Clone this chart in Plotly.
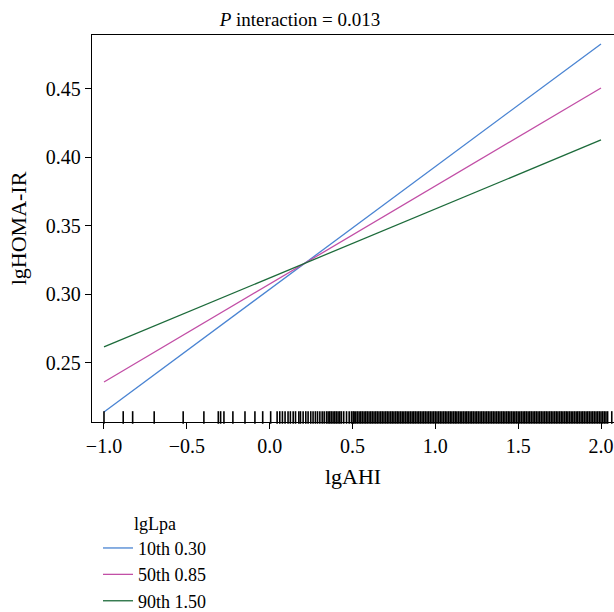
import plotly.graph_objects as go

# Data
x_ends = [-1.0, 2.0]
series_names = ["10th 0.30", "50th 0.85", "90th 1.50"]
blue_y = [0.2142, 0.4829]
pink_y = [0.2361, 0.4507]
green_y = [0.2617, 0.4128]
colors = ["#4A84D2", "#C24FA6", "#1D6B3B"]

rug_sparse = [-1.0, -0.884, -0.827, -0.697, -0.522, -0.397, -0.31, -0.296, -0.276,
              -0.222, -0.149, -0.089, -0.042, 0.006, 0.045, 0.061, 0.077, 0.093,
              0.111, 0.125, 0.142, 0.156, 0.176, 0.186, 0.202, 0.218, 0.232, 0.248,
              0.262, 0.276, 0.289, 0.303, 0.317, 0.329, 0.343, 0.353, 0.363, 0.373,
              0.383, 0.393, 0.403, 0.413, 0.423, 0.433, 0.447, 0.464, 0.48, 0.494,
              0.504, 2.065]
rug_dense = [0.51, 0.52, 0.53, 0.54, 0.55, 0.56, 0.57, 0.58, 0.59, 0.60,
             0.61, 0.62, 0.63, 0.64, 0.65, 0.66, 0.67, 0.68, 0.69, 0.70,
             0.71, 0.72, 0.73, 0.74, 0.75, 0.76, 0.77, 0.78, 0.79, 0.80,
             0.81, 0.82, 0.83, 0.84, 0.85, 0.86, 0.87, 0.88, 0.89, 0.90,
             0.91, 0.92, 0.93, 0.94, 0.95, 0.96, 0.97, 0.98, 0.99, 1.00,
             1.01, 1.02, 1.03, 1.04, 1.05, 1.06, 1.07, 1.08, 1.09, 1.10,
             1.11, 1.12, 1.13, 1.14, 1.15, 1.16, 1.17, 1.18, 1.19, 1.20,
             1.21, 1.22, 1.23, 1.24, 1.25, 1.26, 1.27, 1.28, 1.29, 1.30,
             1.31, 1.32, 1.33, 1.34, 1.35, 1.36, 1.37, 1.38, 1.39, 1.40,
             1.41, 1.42, 1.43, 1.44, 1.45, 1.46, 1.47, 1.48, 1.49, 1.50,
             1.51, 1.52, 1.53, 1.54, 1.55, 1.56, 1.57, 1.58, 1.59, 1.60,
             1.61, 1.62, 1.63, 1.64, 1.65, 1.66, 1.67, 1.68, 1.69, 1.70,
             1.71, 1.72, 1.73, 1.74, 1.75, 1.76, 1.77, 1.78, 1.79, 1.80,
             1.81, 1.82, 1.83, 1.84, 1.85, 1.86, 1.87, 1.88, 1.89, 1.90,
             1.91, 1.92, 1.93, 1.94, 1.95, 1.96, 1.97, 1.98, 1.99, 2.00,
             2.01, 2.02, 2.03, 2.04]
rug_y = 0.2102

FONT = "Liberation Serif, Times New Roman, serif"

fig = go.Figure()
for name, ys, c in zip(series_names, [blue_y, pink_y, green_y], colors):
    fig.add_trace(go.Scatter(x=x_ends, y=ys, mode="lines", name=name,
                             line=dict(color=c, width=1.3)))

rug_all = rug_sparse + rug_dense
fig.add_trace(go.Scatter(x=rug_all, y=[rug_y] * len(rug_all), mode="markers",
                         showlegend=False, cliponaxis=False,
                         marker=dict(symbol="line-ns-open", size=9, color="black",
                                     line=dict(color="black", width=1.6))))

fig.update_layout(
    width=614, height=612,
    margin=dict(l=92, r=0, t=35, b=190, autoexpand=False),
    paper_bgcolor="white", plot_bgcolor="white",
    font=dict(family=FONT, size=18, color="black"),
    title=dict(text="<i>P</i> interaction = 0.013", x=300 / 614, xanchor="center",
               y=1 - 19 / 612, yanchor="middle", xref="container", yref="container",
               font=dict(family=FONT, size=19, color="black")),
    showlegend=True,
    legend=dict(title=dict(text="lgLpa", side="top center", font=dict(size=18)),
                x=0.0115, xanchor="left", y=-0.218, yanchor="top",
                font=dict(family=FONT, size=18), tracegroupgap=0,
                bgcolor="rgba(0,0,0,0)", itemwidth=30),
)
fig.update_xaxes(range=[-1.0724, 2.0785], showgrid=False, zeroline=False,
                 showline=True, linecolor="black", linewidth=1.3, mirror=True,
                 ticks="outside", ticklen=6, tickcolor="black",
                 tickfont=dict(size=20), ticklabeloverflow="allow",
                 tickvals=[-1.0, -0.5, 0.0, 0.5, 1.0, 1.5, 2.0], tickformat=".1f",
                 title=dict(text="lgAHI", standoff=12))
fig.update_yaxes(range=[0.2069, 0.4894], showgrid=False, zeroline=False,
                 showline=True, linecolor="black", linewidth=1.3,
                 ticks="outside", ticklen=6, tickcolor="black",
                 tickfont=dict(size=20),
                 tickvals=[0.25, 0.30, 0.35, 0.40, 0.45], tickformat=".2f",
                 title=dict(text="lgHOMA-IR", standoff=13))

fig.write_html("out.html", config={"displayModeBar": False},
               post_script="document.body.style.margin='0px';")
